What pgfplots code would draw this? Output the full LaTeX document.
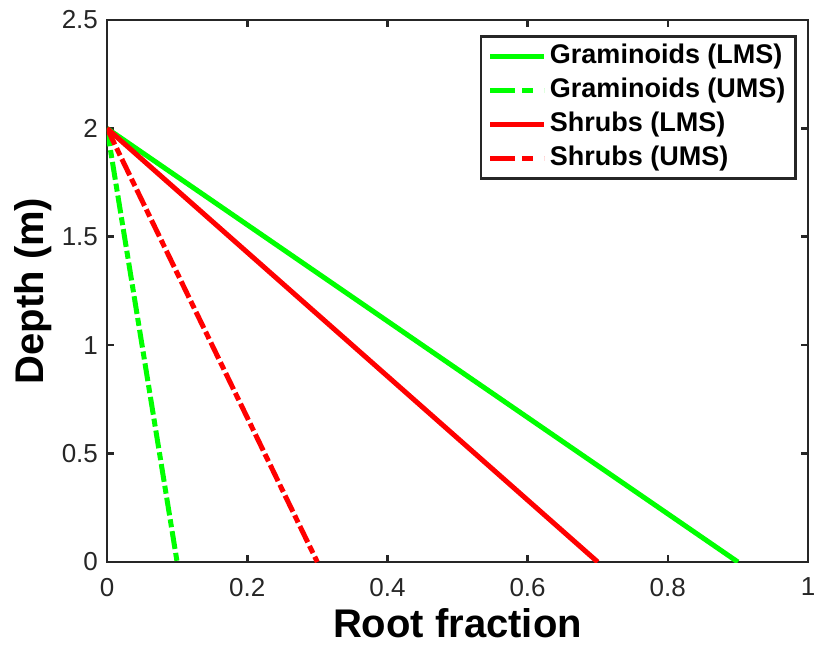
\documentclass[border=0pt]{standalone}
\usepackage{pgfplots}
\pgfplotsset{compat=1.18}
\usepackage{fontspec}
\setmainfont{Liberation Sans}
\definecolor{mgreen}{RGB}{0,255,0}
\definecolor{mred}{RGB}{255,0,0}
\definecolor{axgray}{RGB}{38,38,38}

\begin{document}
\begin{tikzpicture}
\begin{axis}[
  scale only axis, width=350.5pt, height=271pt,
  xmin=0, xmax=1, ymin=0, ymax=2.5,
  xtick={0,0.2,0.4,0.6,0.8,1}, ytick={0,0.5,1,1.5,2,2.5},
  /pgf/number format/assume math mode=true,
  tick label style={font=\fontsize{13}{15}\selectfont, text=axgray},
  xticklabel style={yshift=-4.5pt},
  yticklabel style={xshift=-1pt},
  xlabel={\bfseries Root fraction}, ylabel={\bfseries Depth (m)},
  label style={font=\fontsize{20}{24}\selectfont},
  xlabel style={at={(axis description cs:0.5,-0.112)}, anchor=center, inner sep=0pt},
  ylabel style={at={(axis description cs:-0.1056,0.5)}, anchor=center, inner sep=0pt},
  axis line style={axgray, line width=1.3pt},
  tick style={axgray, line width=1.3pt}, major tick length=3.5pt,
  tick align=inside,
  legend cell align=left,
  legend style={at={(0.984,0.972)}, anchor=north east, draw=axgray, line width=1.3pt,
    font=\fontsize{13.5}{15}\selectfont\bfseries, inner xsep=3.5pt, inner ysep=1.5pt,
    row sep=0pt, nodes={inner xsep=1.5pt, inner ysep=2pt, text height=10pt, text depth=3pt}},
  legend image code/.code={\draw[#1, line cap=butt] (0pt,0pt) -- (27pt,0pt);},
]
\addplot[forget plot, mgreen, line width=2.5pt] coordinates {(0,2) (0.9,0)};
\addplot[forget plot, mgreen, line width=2.5pt, dash pattern=on 9pt off 2pt on 4pt off 2pt] coordinates {(0,2) (0.1,0)};
\addplot[forget plot, mred, line width=2.5pt] coordinates {(0,2) (0.7,0)};
\addplot[forget plot, mred, line width=2.5pt, dash pattern=on 9pt off 2pt on 4pt off 2pt] coordinates {(0,2) (0.3,0)};
\addlegendimage{mgreen, line width=2.5pt}
\addlegendimage{mgreen, line width=2.5pt, dash pattern=on 12.5pt off 3.5pt on 5.5pt off 5.5pt}
\addlegendimage{mred, line width=2.5pt}
\addlegendimage{mred, line width=2.5pt, dash pattern=on 12.5pt off 3.5pt on 5.5pt off 5.5pt}
\legend{Graminoids (LMS),Graminoids (UMS),Shrubs (LMS),Shrubs (UMS)}
\end{axis}
\pgfresetboundingbox
\useasboundingbox ([xshift=-53.5pt,yshift=-42.5pt]current axis.south west) rectangle ([xshift=4pt,yshift=10pt]current axis.north east);
\end{tikzpicture}
\end{document}
